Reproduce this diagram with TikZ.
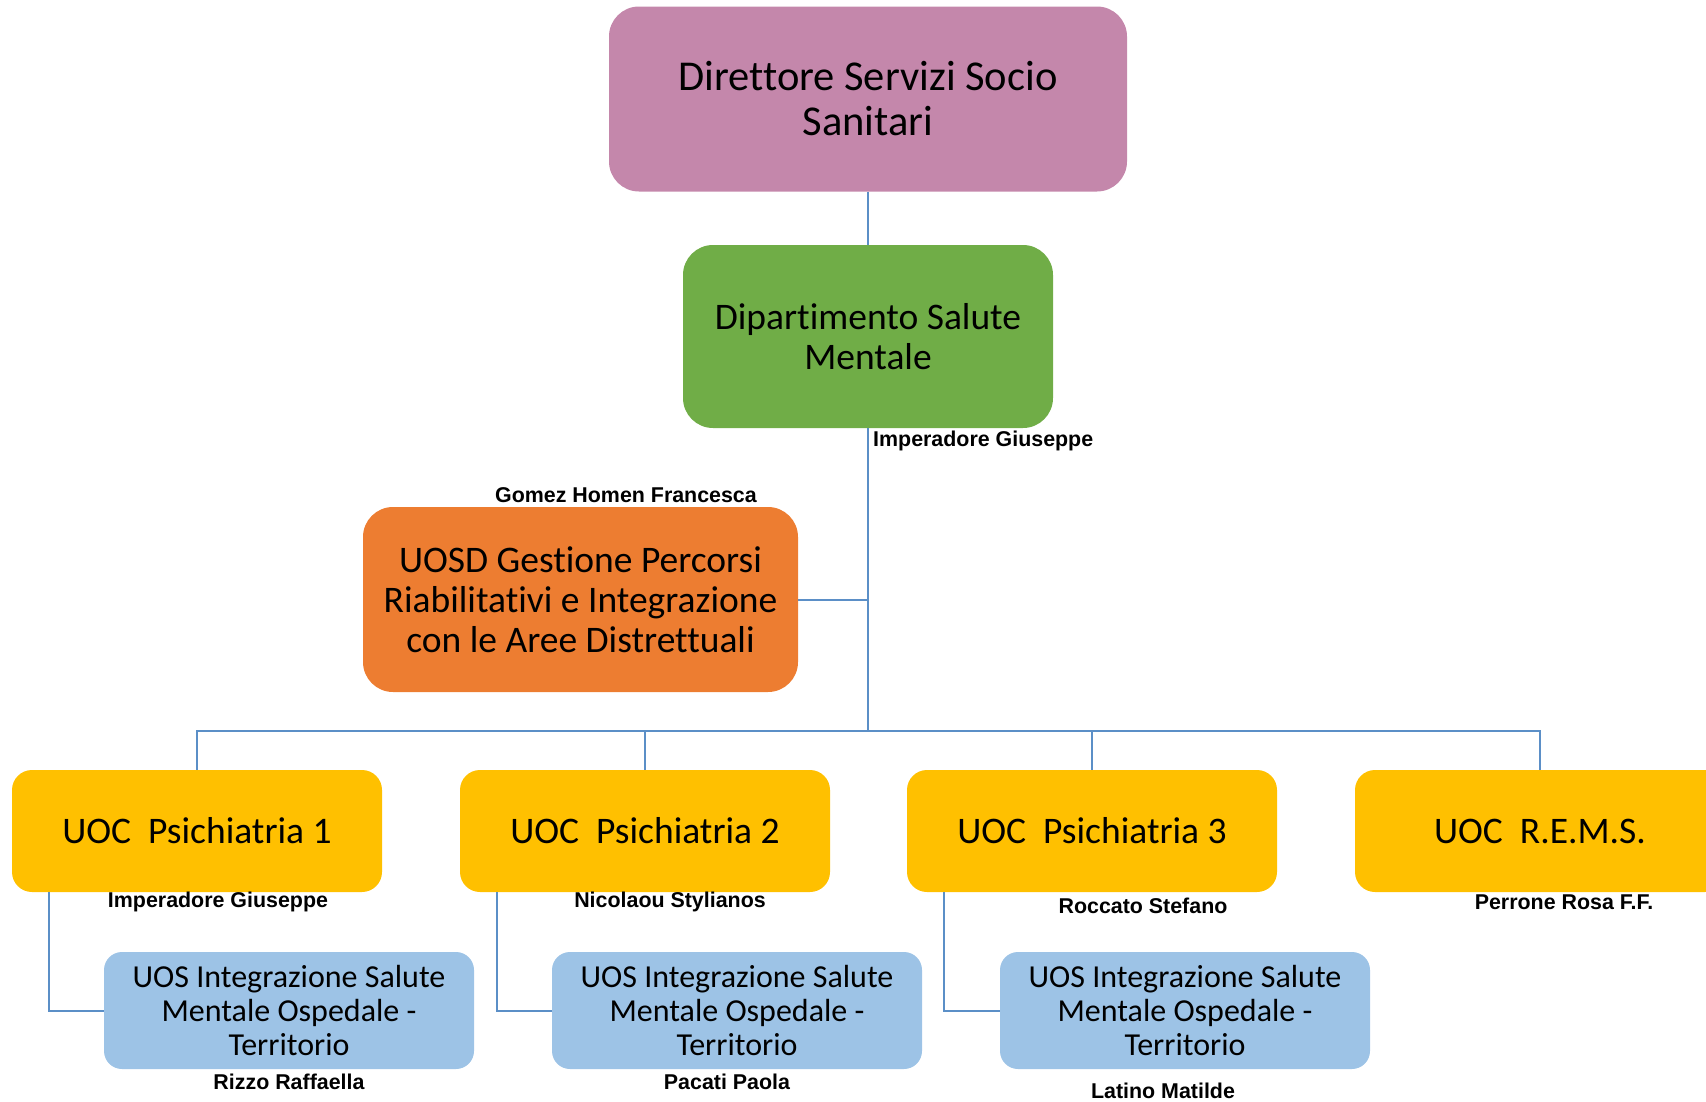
\documentclass[tikz,border=0pt]{standalone}
\usepackage{fontspec}
\setmainfont{Carlito}[Ligatures=NoCommon]
\newfontfamily\namefont{Liberation Sans}[BoldFont={Liberation Sans Bold}]
\usetikzlibrary{positioning}

\definecolor{dirpink}{HTML}{C487AB}
\definecolor{dsmgreen}{HTML}{70AD47}
\definecolor{uosdorange}{HTML}{ED7D31}
\definecolor{uocyellow}{HTML}{FFC000}
\definecolor{uosblue}{HTML}{9DC3E6}
\definecolor{linkblue}{HTML}{5B8FC7}

\begin{document}
\begin{tikzpicture}[x=1pt,y=-1pt,
	unit/.style = {rectangle, rounded corners=30pt, align=center, inner sep=0pt},
	uocbox/.style = {unit, fill=uocyellow, rounded corners=20pt, minimum width=370pt, minimum height=122pt, font=\fontsize{37.5}{40}\selectfont},
	uosbox/.style = {unit, fill=uosblue, rounded corners=18pt, minimum width=370pt, minimum height=117pt, font=\fontsize{32}{34}\selectfont},
	capo/.style = {font=\namefont\bfseries\fontsize{21.4}{24}\selectfont, inner sep=0pt},
	link/.style = {draw=linkblue, line width=2pt}]
	\useasboundingbox (0,0) rectangle (1706,1101);
	% upper levels
	\node[unit, fill=dirpink, minimum width=518pt, minimum height=185pt, font=\fontsize{42.5}{45}\selectfont] (dir) at (868,99) {Direttore Servizi Socio\\Sanitari};
	\node[unit, fill=dsmgreen, minimum width=370pt, minimum height=183pt, font=\fontsize{37.5}{40}\selectfont] (dsm) at (868,336.5) {Dipartimento Salute\\Mentale};
	\node[unit, fill=uosdorange, minimum width=435pt, minimum height=185pt, font=\fontsize{37.5}{40}\selectfont] (uosd) at (580.5,599.5) {UOSD Gestione Percorsi\\Riabilitativi e Integrazione\\con le Aree Distrettuali};
	\coordinate (bus) at (868,731);
	% UOC and UOS
	\node[uocbox] (psi1) at (197,831) {UOC\ \ Psichiatria 1};
	\node[uocbox] (psi2) at (645,831) {UOC\ \ Psichiatria 2};
	\node[uocbox] (psi3) at (1092,831) {UOC\ \ Psichiatria 3};
	\node[uocbox] (rems) at (1540,831) {UOC\ \ R.E.M.S.};
	\node[uosbox] (uos1) at (289,1010.5) {UOS Integrazione Salute\\Mentale Ospedale -\\Territorio};
	\node[uosbox] (uos2) at (737,1010.5) {UOS Integrazione Salute\\Mentale Ospedale -\\Territorio};
	\node[uosbox] (uos3) at (1185,1010.5) {UOS Integrazione Salute\\Mentale Ospedale -\\Territorio};
	% names
	\node[capo, anchor=west] (n0) at (873,441) {Imperadore Giuseppe};
	\node[capo] (n1) at (626,495) {Gomez Homen Francesca};
	\node[capo] (n2) at (218,902) {Imperadore Giuseppe};
	\node[capo] (n3) at (670,902) {Nicolaou Stylianos};
	\node[capo] (n4) at (1143,906) {Roccato Stefano};
	\node[capo] (n5) at (1564,902) {Perrone Rosa F.F.};
	\node[capo] (n6) at (289,1082) {Rizzo Raffaella};
	\node[capo] (n7) at (727,1082) {Pacati Paola};
	\node[capo] (n8) at (1163,1091) {Latino Matilde};
	% links
	\draw[link] (dir) -- (dsm);
	\draw[link] (dsm) -- (bus);
	\draw[link] (uosd.east) -- (uosd.east -| bus);
	\draw[link] (psi1.north) |- (bus) -| (rems.north);
	\foreach \u in {psi2,psi3}
		\draw[link] (\u.north) -- (\u.north |- bus);
	\foreach \u/\s in {psi1/uos1,psi2/uos2,psi3/uos3}
		\draw[link] ([xshift=37pt]\u.south west) |- (\s.west);
\end{tikzpicture}
\end{document}
